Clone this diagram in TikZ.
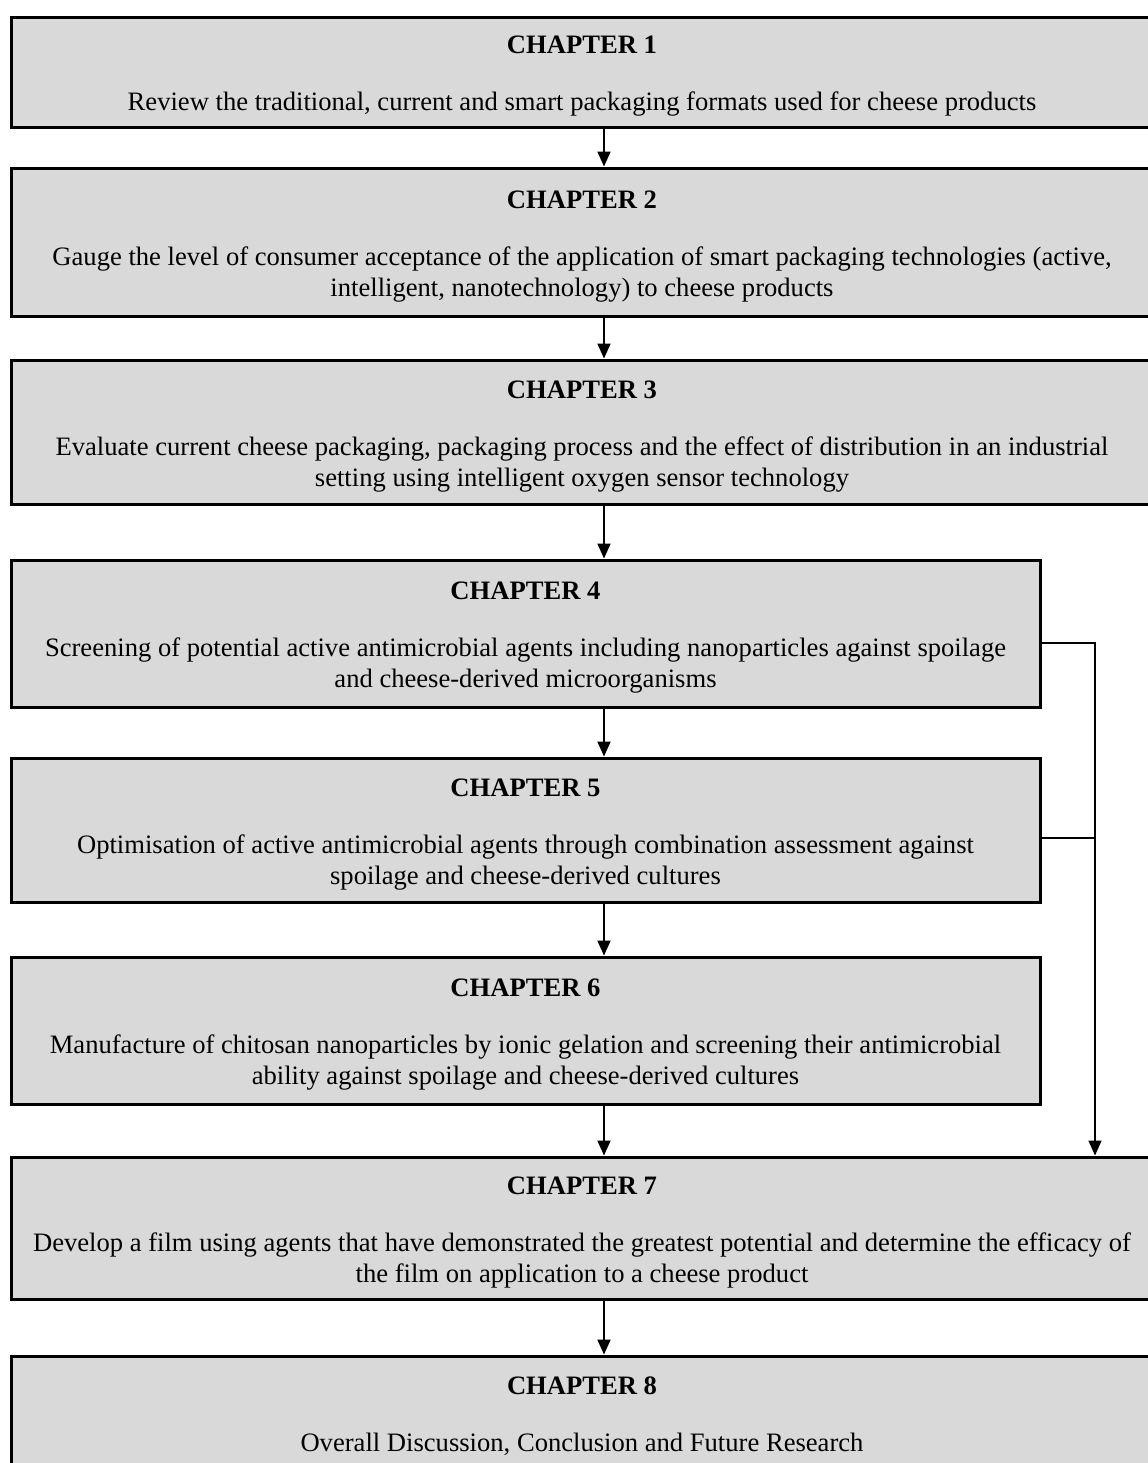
\documentclass[tikz,border=0pt]{standalone}
\usepackage{fontspec}
\setmainfont{Liberation Serif}
\usetikzlibrary{arrows.meta}
\definecolor{boxgray}{HTML}{D9D9D9}
\newcommand{\chaptext}[2]{\rule{0pt}{13pt}\textbf{CHAPTER #1}\\[13pt] #2}
\tikzset{
    chapbox/.style={draw=black, line width=1.5pt, fill=boxgray, align=center,
        font=\fontsize{13.3}{15.5}\selectfont, inner sep=2pt},
    widebox/.style={chapbox, minimum width=571pt},
    narrowbox/.style={chapbox, minimum width=514.5pt},
    flow/.style={line width=1pt, -{Triangle[width=6.5pt,length=7.5pt]}},
    link/.style={line width=0.8pt},
}
\begin{document}
\begin{tikzpicture}[x=0.5pt, y=-0.5pt]
    \useasboundingbox (0,0) rectangle (1147,1463);
    \coordinate (xarr) at (604,0) ;
    \coordinate (xside) at (1095,0) ;

    % chapter boxes
    \node[widebox, minimum height=55pt] (ch1) at (582,72)
        {\chaptext{1}{Review the traditional, current and smart packaging formats used for cheese products}};
    \node[widebox, minimum height=74pt] (ch2) at (582,242)
        {\chaptext{2}{Gauge the level of consumer acceptance of the application of smart packaging technologies (active,\\ intelligent, nanotechnology) to cheese products}};
    \node[widebox, minimum height=72pt] (ch3) at (582,432)
        {\chaptext{3}{Evaluate current cheese packaging, packaging process and the effect of distribution in an industrial\\ setting using intelligent oxygen sensor technology}};
    \node[narrowbox, minimum height=73.5pt] (ch4) at (525.5,633.5)
        {\chaptext{4}{Screening of potential active antimicrobial agents including nanoparticles against spoilage\\ and cheese-derived microorganisms}};
    \node[narrowbox, minimum height=72pt] (ch5) at (525.5,830)
        {\chaptext{5}{Optimisation of active antimicrobial agents through combination assessment against\\ spoilage and cheese-derived cultures}};
    \node[narrowbox, minimum height=73.5pt] (ch6) at (525.5,1030.5)
        {\chaptext{6}{Manufacture of chitosan nanoparticles by ionic gelation and screening their antimicrobial\\ ability against spoilage and cheese-derived cultures}};
    \node[widebox, minimum height=71pt] (ch7) at (582,1228)
        {\chaptext{7}{Develop a film using agents that have demonstrated the greatest potential and determine the efficacy of\\ the film on application to a cheese product}};
    \node[widebox, minimum height=56pt] (ch8) at (582,1412)
        {\chaptext{8}{Overall Discussion, Conclusion and Future Research}};

    % main flow
    \draw[flow] (ch1.south -| xarr) -- (ch2.north -| xarr);
    \draw[flow] (ch2.south -| xarr) -- (ch3.north -| xarr);
    \draw[flow] (ch3.south -| xarr) -- (ch4.north -| xarr);
    \draw[flow] (ch4.south -| xarr) -- (ch5.north -| xarr);
    \draw[flow] (ch5.south -| xarr) -- (ch6.north -| xarr);
    \draw[flow] (ch6.south -| xarr) -- (ch7.north -| xarr);
    \draw[flow] (ch7.south -| xarr) -- (ch8.north -| xarr);

    % side branch
    \coordinate (tap4) at ([yshift=-4.75pt]ch4.east) ;
    \coordinate (tap5) at ([yshift=-4pt]ch5.east) ;
    \draw[flow, link] (tap4) -| (ch7.north -| xside);
    \draw[link] (tap5) -- (tap5 -| xside);

\end{tikzpicture}
\end{document}
